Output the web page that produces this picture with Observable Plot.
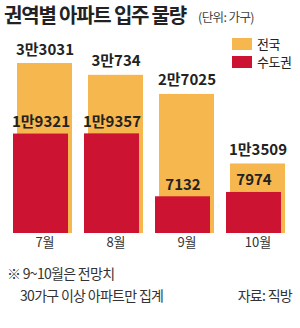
<!DOCTYPE html>
<html><head><meta charset="utf-8">
<script src="https://cdn.jsdelivr.net/npm/d3@7"></script>
<script src="https://cdn.jsdelivr.net/npm/@observablehq/plot@0.6"></script>
<style>
html,body{margin:0;padding:0;background:#fff;}
#wrap{position:relative;width:300px;height:328px;overflow:hidden;font-family:"Noto Sans CJK KR",sans-serif;color:#222;}
.abs{position:absolute;white-space:nowrap;}
#title{left:4px;top:1px;font-size:20px;font-weight:700;letter-spacing:-1.2px;line-height:28px;}
#unit{left:198px;top:9px;font-size:12.5px;font-weight:400;color:#444;letter-spacing:-0.6px;line-height:16px;}
.lg{font-size:13px;line-height:14px;height:14px;letter-spacing:-0.5px;}
.sw{display:inline-block;width:20px;height:12px;vertical-align:-1px;margin-right:5px;}
.note{font-size:14px;letter-spacing:-0.7px;color:#333;line-height:16px;}
#chart{position:absolute;left:0;top:0;}
</style></head>
<body><div id="wrap">
<div id="chart"></div>
<div class="abs" id="title">권역별 아파트 입주 물량</div>
<div class="abs" id="unit">(단위: 가구)</div>
<div class="abs lg" style="left:232px;top:37px;"><span class="sw" style="background:#F6B74E"></span>전국</div>
<div class="abs lg" style="left:232px;top:55px;"><span class="sw" style="background:#CD1332"></span>수도권</div>
<div class="abs note" style="left:7px;top:265px;">※ 9~10월은 전망치</div>
<div class="abs note" style="left:20px;top:287px;">30가구 이상 아파트만 집계</div>
<div class="abs note" style="right:8px;top:287px;">자료: 직방</div>
</div>
<script>
const months = ["7월","8월","9월","10월"];
const national = [33031, 30734, 27025, 13509];
const capital = [19321, 19357, 7132, 7974];
const nationalLabels = ["3만3031","3만734","2만7025","1만3509"];
const capitalLabels = ["1만9321","1만9357","7132","7974"];

const rows = months.map((m,i)=>({month:m, national:national[i], capital:capital[i], nl:nationalLabels[i], cl:capitalLabels[i]}));
const labelFont = {fontFamily:"'Liberation Sans Narrow','Noto Sans CJK KR',sans-serif", fontWeight:700, fontSize:15};
const chart = Plot.plot({
  width:300, height:260,
  marginTop:63, marginBottom:27, marginLeft:0, marginRight:0,
  x:{domain:months, range:[16,285.5], paddingInner:0.23, paddingOuter:0, axis:null},
  y:{domain:[0,33031], axis:null},
  marks:[
    Plot.barY(rows,{x:"month", y:"national", fill:"#F6B74E"}),
    Plot.barY(rows,{x:"month", y:"capital", fill:"#CD1332", dx:-4}),
    Plot.ruleY([0],{stroke:"#333", strokeWidth:1.2, x1:5, x2:295}),
    Plot.text(rows,{x:"month", y:"national", text:"nl", dy:-9, lineAnchor:"bottom", fill:"#222", ...labelFont}),
    Plot.text(rows,{x:"month", y:"capital", text:"cl", dx:-4, dy:-7, lineAnchor:"bottom", fill:"#222", ...labelFont}),
    Plot.axisX({domain:months, label:null, tickSize:0, tickPadding:4, fontSize:13, fill:"#333", fontFamily:"'Noto Sans CJK KR',sans-serif"})
  ]
});
document.getElementById("chart").appendChild(chart);
</script>
</body></html>
